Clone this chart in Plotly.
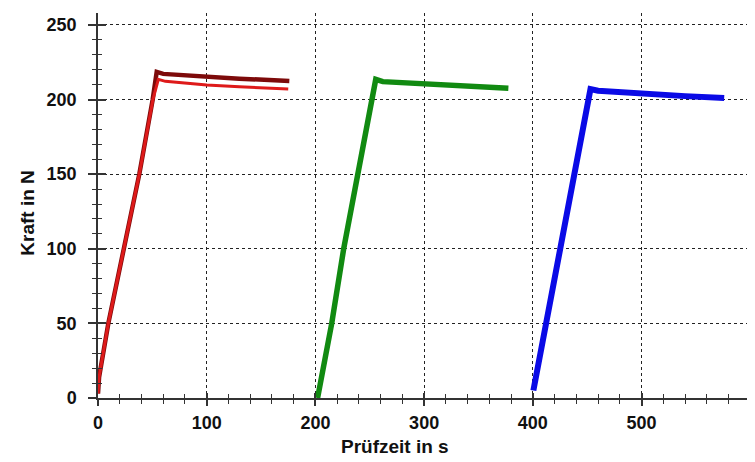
import plotly.graph_objects as go

# ---- data ----
t_dunkelrot = [0, 1, 9.5, 24, 38, 50.3, 54, 60, 80, 100, 130, 176]
f_dunkelrot = [3, 14, 50, 100, 150, 200, 218.5, 217.2, 216.2, 215.3, 214.0, 212.5]

t_rot = [0, 1, 9.5, 24, 38, 50.5, 55.5, 62, 80, 100, 130, 175]
f_rot = [3, 14, 50, 100, 150, 200, 213.5, 212.2, 211.0, 209.8, 208.6, 207.0]

t_gruen = [202, 215, 226, 238.5, 251, 255.5, 262, 280, 300, 340, 377.5]
f_gruen = [0, 50, 100, 150, 200, 213.5, 212.0, 211.2, 210.3, 209.0, 207.6]

t_blau = [400.5, 412, 424.4, 437.3, 449.5, 453, 460, 480, 500, 540, 576]
f_blau = [5, 50, 100, 150, 195, 207, 205.9, 204.8, 203.8, 202.3, 201.0]

x_range = [0, 597]
y_range = [0, 258]
x_title = "Prüfzeit in s"
y_title = "Kraft in N"

FONT = "Liberation Sans, Arial, sans-serif"
AXC = "#333333"

fig = go.Figure()
series = [
    (t_dunkelrot, f_dunkelrot, "#7d0a0a", 4.5),
    (t_rot, f_rot, "#de1a1a", 3),
    (t_gruen, f_gruen, "#118a11", 5.5),
    (t_blau, f_blau, "#0a0ae6", 6),
]
for t, f, c, w in series:
    fig.add_trace(go.Scatter(x=t, y=f, mode="lines",
                             line=dict(color=c, width=w),
                             showlegend=False, hoverinfo="skip"))

# empty trace so the overlay axes (inner half of the crossing ticks) are drawn
fig.add_trace(go.Scatter(x=[], y=[], xaxis="x2", yaxis="y2", mode="lines",
                         showlegend=False, hoverinfo="skip"))

tickfont = dict(family=FONT, size=18, color="#111111", weight="bold")
titlefont = dict(family=FONT, size=19, color="#111111", weight="bold")

# page body has an 8px margin, so the figure is sized/positioned to compensate
fig.update_layout(
    width=747, height=454,
    margin=dict(l=90, r=8, t=5, b=64),
    paper_bgcolor="white", plot_bgcolor="white",
    xaxis=dict(
        range=x_range, dtick=100, tick0=0,
        showgrid=True, gridcolor="#222222", griddash="dot", gridwidth=1,
        zeroline=False, showline=True, linecolor=AXC, linewidth=1.5,
        ticks="outside", ticklen=6, tickwidth=1.5, tickcolor=AXC,
        minor=dict(dtick=20, ticks="outside", ticklen=4, tickwidth=1.2,
                   tickcolor=AXC, showgrid=False),
        tickfont=tickfont, ticklabelstandoff=2, automargin=False,
    ),
    yaxis=dict(
        range=y_range, dtick=50, tick0=0,
        showgrid=True, gridcolor="#222222", griddash="dot", gridwidth=1,
        zeroline=False, showline=True, linecolor=AXC, linewidth=1.5,
        ticks="outside", ticklen=8, tickwidth=1.5, tickcolor=AXC,
        minor=dict(dtick=10, ticks="outside", ticklen=4, tickwidth=1.2,
                   tickcolor=AXC, showgrid=False),
        tickfont=tickfont, ticklabelstandoff=8, automargin=False,
    ),
    xaxis2=dict(
        range=x_range, overlaying="x", anchor="y2", side="bottom",
        dtick=100, tick0=0, showgrid=False, zeroline=False, showline=False,
        ticks="inside", ticklen=5, tickwidth=1.5, tickcolor=AXC,
        minor=dict(dtick=20, ticks="inside", ticklen=4, tickwidth=1.2,
                   tickcolor=AXC, showgrid=False),
        showticklabels=False, automargin=False,
    ),
    yaxis2=dict(
        range=y_range, overlaying="y", anchor="x2", side="left",
        dtick=50, tick0=0, showgrid=False, zeroline=False, showline=False,
        ticks="inside", ticklen=8, tickwidth=1.5, tickcolor=AXC,
        minor=dict(dtick=10, ticks="inside", ticklen=4, tickwidth=1.2,
                   tickcolor=AXC, showgrid=False),
        showticklabels=False, automargin=False,
    ),
    annotations=[
        dict(text=x_title, xref="paper", yref="paper", x=0.458, y=-0.127,
             xanchor="center", yanchor="middle", showarrow=False,
             font=titlefont),
        dict(text=y_title, xref="paper", yref="paper", x=-0.109, y=0.482,
             xanchor="center", yanchor="middle", textangle=-90, showarrow=False,
             font=titlefont),
    ],
)

fig.write_html("out.html")
